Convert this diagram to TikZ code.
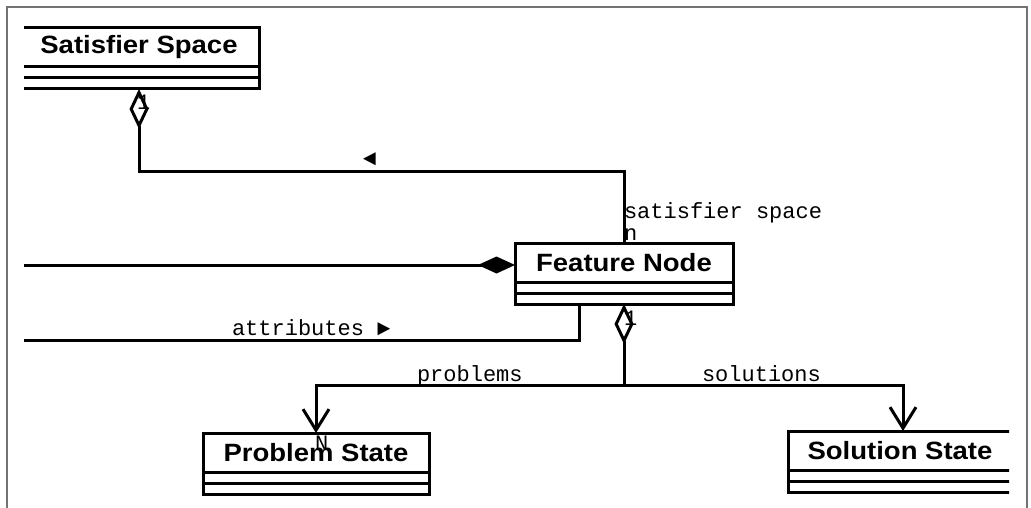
\documentclass[tikz,border=0pt]{standalone}
\usepackage{fontspec}
\usetikzlibrary{arrows.meta}
\newfontfamily\clsfont[FakeStretch=1.1]{Liberation Sans}
\newfontfamily\lblfont{Liberation Mono}
\tikzset{
  x=1pt, y=-1pt,
  boxline/.style={line width=3pt},
  clsbox/.style={draw, line width=3pt, rectangle, inner sep=0pt, outer sep=0pt},
  clstitle/.style={inner sep=0pt, outer sep=0pt, font=\clsfont\bfseries\fontsize{25}{25}\selectfont},
  conn/.style={line width=3pt},
  lbl/.style={inner sep=0pt, outer sep=0pt, anchor=base west, font=\lblfont\fontsize{22}{22}\selectfont},
  frameline/.style={draw=black!55, line width=2pt},
  ODia/.tip={Diamond[open,length=40pt,width=19pt,line join=miter]},
  FDia/.tip={Diamond[length=37pt,width=17pt]},
  VBarb/.tip={Straight Barb[length=21pt,width=26pt,line join=miter,line cap=butt]}
}
\newcommand{\umlclass}[5]{%
  \node[clsbox, minimum width=#4, minimum height=61, anchor=north] (#1) at (#2,#3) {};
  \node[clstitle, minimum width=#4, minimum height=39, anchor=north] (#1-t) at (#1.north) {#5};
  \draw[boxline] ([yshift=-39pt]#1.north west) -- ([yshift=-39pt]#1.north east);
  \draw[boxline] ([yshift=-50pt]#1.north west) -- ([yshift=-50pt]#1.north east);
}
\begin{document}
\begin{tikzpicture}
\useasboundingbox (0,0) rectangle (1031,508);
\draw[frameline] (7,508) -- (7,7) -- (1027,7) -- (1027,508);
\begin{scope}
\clip (24,0) rectangle (1009,508);
\umlclass{ss}{139}{28}{240}{Satisfier Space}
\umlclass{fn}{624}{243}{218}{Feature Node}
\umlclass{ps}{316}{433}{226}{Problem State}
\umlclass{sol}{900}{431}{224}{Solution State}
\coordinate (ext1) at (10,265);
\coordinate (ext2) at (10,340);
% satisfier space association
\draw[conn, ODia-] (ss.south) -- ++(0,83) -| (fn.north);
% composition from the left
\draw[conn, -FDia] (ext1) -- (ext1 -| fn.west);
% attributes
\draw[conn] ([xshift=-45pt]fn.south) |- (ext2);
% problems / solutions
\draw[conn, ODia-VBarb] (fn.south) -- ++(0,81) -| (ps.north);
\draw[conn, -VBarb] ([yshift=-81pt]fn.south) -| ([xshift=3pt]sol.north);
% labels
\node[lbl] (l-ss1) at (137,110) {1};
\node[lbl] (l-dir) at (363,166) {◄};
\node[lbl] (l-sat) at (624,218) {satisfier space};
\node[lbl] (l-n) at (624,240) {n};
\node[lbl] (l-attr) at (232,335) {attributes ►};
\node[lbl] (l-fn1) at (624,325) {1};
\node[lbl] (l-prob) at (417,381) {problems};
\node[lbl] (l-sol) at (702,381) {solutions};
\node[lbl] (l-N) at (315,450) {N};
\end{scope}
\end{tikzpicture}
\end{document}
